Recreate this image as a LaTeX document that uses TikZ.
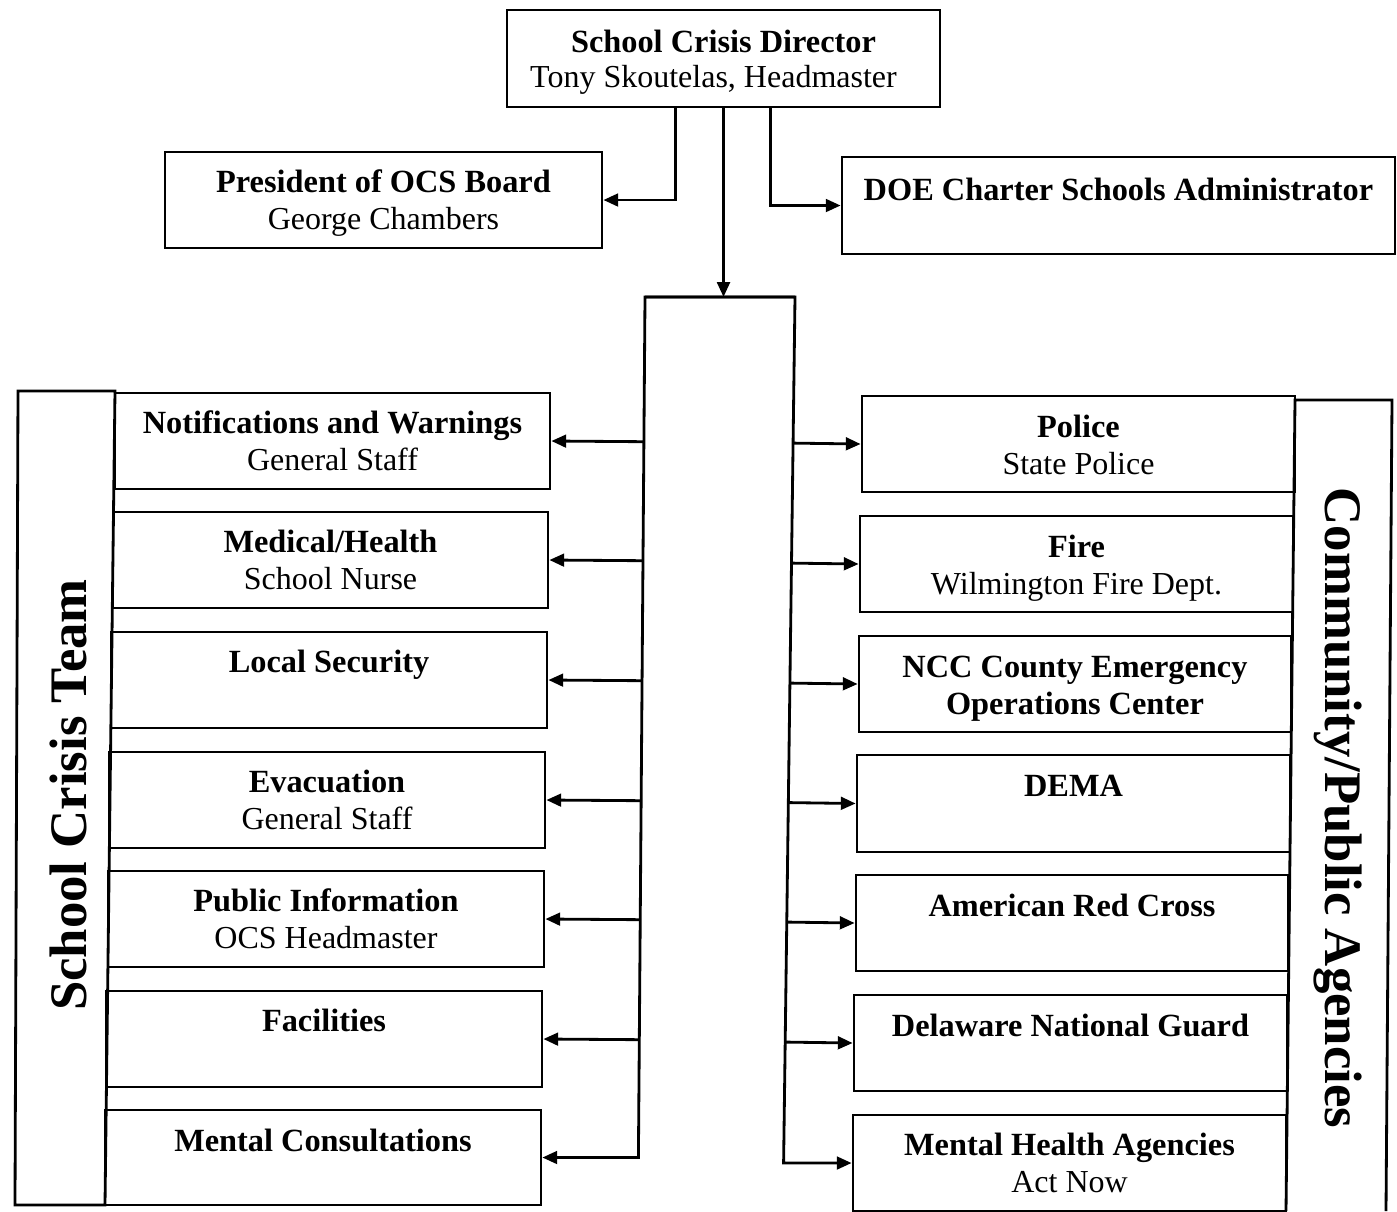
\documentclass[tikz,border=0pt]{standalone}
\usepackage{fontspec}
\setmainfont{Liberation Serif}
\usetikzlibrary{arrows.meta,calc,fit}
\begin{document}
\begin{tikzpicture}[x=0.01cm,y=-0.01cm,
 box/.style={draw, rectangle, inner sep=0pt, line width=0.8pt},
 head/.style={font=\bfseries\fontsize{9.2}{10}\selectfont, anchor=base, inner sep=0pt},
 sub/.style={font=\fontsize{9.1}{10}\selectfont, anchor=base, inner sep=0pt},
 side/.style={font=\bfseries\fontsize{15}{17}\selectfont, inner sep=0pt},
 arr/.style={-{Triangle[length=4.2pt,width=3.6pt]}, line width=0.8pt, line join=miter},
 link/.style={line width=0.8pt, line join=miter}]
\useasboundingbox (0,0) rectangle (1397,1211);

% top row
\node[box, fit={(507,10) (940,107)}] (top) {};
\node[head] (top-a) at ($(top.north)+(0,44)$) {School Crisis Director};
\node[sub]  (top-b) at ($(top.north)+(-10,79)$) {Tony Skoutelas, Headmaster};

\node[box, fit={(165,152) (602,248)}] (pres) {};
\node[head] (pres-a) at ($(pres.north)+(0,42)$) {President of OCS Board};
\node[sub]  (pres-b) at ($(pres.north)+(0,79)$) {George Chambers};

\node[box, fit={(842,157) (1395,254)}] (doe) {};
\node[head] (doe-a) at ($(doe.north)+(0,45)$) {DOE Charter Schools Administrator};

% left column
\node[box, fit={(115,393) (550,489)}] (lb1) {};
\node[head] (lb1-a) at ($(lb1.north)+(0,42)$) {Notifications and Warnings};
\node[sub]  (lb1-b) at ($(lb1.north)+(0,79)$) {General Staff};

\node[box, fit={(113,512) (548,608)}] (lb2) {};
\node[head] (lb2-a) at ($(lb2.north)+(0,42)$) {Medical/Health};
\node[sub]  (lb2-b) at ($(lb2.north)+(0,79)$) {School Nurse};

\node[box, fit={(111,632) (547,728)}] (lb3) {};
\node[head] (lb3-a) at ($(lb3.north)+(0,42)$) {Local Security};

\node[box, fit={(109,752) (545,848)}] (lb4) {};
\node[head] (lb4-a) at ($(lb4.north)+(0,42)$) {Evacuation};
\node[sub]  (lb4-b) at ($(lb4.north)+(0,79)$) {General Staff};

\node[box, fit={(108,871) (544,967)}] (lb5) {};
\node[head] (lb5-a) at ($(lb5.north)+(0,42)$) {Public Information};
\node[sub]  (lb5-b) at ($(lb5.north)+(0,79)$) {OCS Headmaster};

\node[box, fit={(106,991) (542,1087)}] (lb6) {};
\node[head] (lb6-a) at ($(lb6.north)+(0,42)$) {Facilities};

\node[box, fit={(105,1110) (541,1205)}] (lb7) {};
\node[head] (lb7-a) at ($(lb7.north)+(0,43)$) {Mental Consultations};

% right column
\node[box, fit={(862,396) (1295,492)}] (rb1) {};
\node[head] (rb1-a) at ($(rb1.north)+(0,43)$) {Police};
\node[sub]  (rb1-b) at ($(rb1.north)+(0,80)$) {State Police};

\node[box, fit={(860,516) (1293,612)}] (rb2) {};
\node[head] (rb2-a) at ($(rb2.north)+(0,43)$) {Fire};
\node[sub]  (rb2-b) at ($(rb2.north)+(0,80)$) {Wilmington Fire Dept.};

\node[box, fit={(859,636) (1291,732)}] (rb3) {};
\node[head] (rb3-a) at ($(rb3.north)+(0,43)$) {NCC County Emergency};
\node[head] (rb3-b) at ($(rb3.north)+(0,80)$) {Operations Center};

\node[box, fit={(857,755) (1290,852)}] (rb4) {};
\node[head] (rb4-a) at ($(rb4.north)+(0,43)$) {DEMA};

\node[box, fit={(856,875) (1288,971)}] (rb5) {};
\node[head] (rb5-a) at ($(rb5.north)+(0,43)$) {American Red Cross};

\node[box, fit={(854,995) (1287,1091)}] (rb6) {};
\node[head] (rb6-a) at ($(rb6.north)+(0,43)$) {Delaware National Guard};

\node[box, fit={(853,1115) (1286,1211)}] (rb7) {};
\node[head] (rb7-a) at ($(rb7.north)+(0,42)$) {Mental Health Agencies};
\node[sub]  (rb7-b) at ($(rb7.north)+(0,79)$) {Act Now};

% side strips
\draw[link] (15,1205) -- (18,391) -- (115,391) -- (105,1205) -- cycle;
\draw[link] (1286,1211) -- (1295,400) -- (1392,400) -- (1386,1211);
\node[side, rotate=90] (sct) at (68,795) {School Crisis Team};
\node[side, rotate=-90] (cpa) at (1338,808) {Community/Public Agencies};

% connectors from top
\draw[arr] ($(top.south)+(-48,0)$) |- (pres.east);
\draw[arr] ($(top.south)+(47,0)$) |- (doe.west);
\coordinate (hubL) at (645,297);
\coordinate (hubR) at (795,297);
\draw[arr] (top.south) -- (top.south |- hubL);

% hub
\path (lb7.east) ++(96,0) coordinate (hubLb);
\path (rb7.west) ++(-68,0) coordinate (hubRb);
\draw[arr] (hubR) -- (hubL) -- (hubLb) -- (lb7.east);
\draw[arr] (hubL) -- (hubR) -- (hubRb) -- (rb7.west);
\foreach \i in {1,...,6} {
  \draw[arr] ($(hubL)!(lb\i.east)!(hubLb)$) -- (lb\i.east);
  \draw[arr] ($(hubR)!(rb\i.west)!(hubRb)$) -- (rb\i.west);
}
\end{tikzpicture}
\end{document}
